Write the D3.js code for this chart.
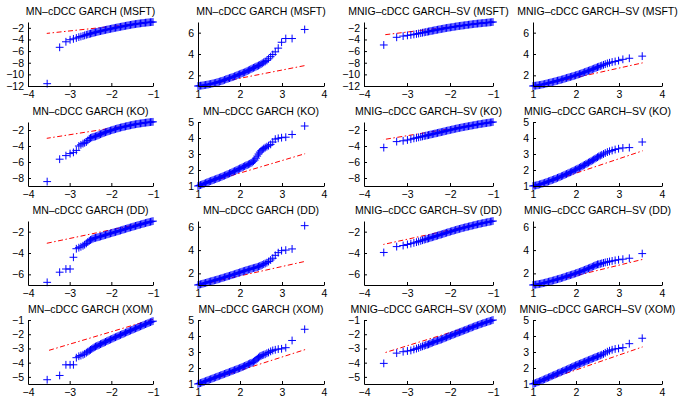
<!DOCTYPE html>
<html><head><meta charset="utf-8">
<script src="https://cdn.jsdelivr.net/npm/d3@7/dist/d3.min.js"></script>
<style>
html,body{margin:0;padding:0;background:#fff;}
svg text{font-family:"Liberation Sans",Arial,Helvetica,sans-serif;}
</style></head>
<body><svg id="chart" width="679" height="397"></svg>
<script>
// ---------------- DATA ----------------
const TITLES = [
  "MN–cDCC GARCH (MSFT)", "MN–cDCC GARCH (MSFT)", "MNIG–cDCC GARCH–SV (MSFT)", "MNIG–cDCC GARCH–SV (MSFT)",
  "MN–cDCC GARCH (KO)",   "MN–cDCC GARCH (KO)",   "MNIG–cDCC GARCH–SV (KO)",   "MNIG–cDCC GARCH–SV (KO)",
  "MN–cDCC GARCH (DD)",   "MN–cDCC GARCH (DD)",   "MNIG–cDCC GARCH–SV (DD)",   "MNIG–cDCC GARCH–SV (DD)",
  "MN–cDCC GARCH (XOM)",  "MN–cDCC GARCH (XOM)",  "MNIG–cDCC GARCH–SV (XOM)",  "MNIG–cDCC GARCH–SV (XOM)"
];
// theoretical (standard normal) quantiles, from the extreme towards the centre
const X_LO = [-3.54,-3.24,-3.09,-2.99,-2.91,-2.84,-2.78,-2.73,-2.68,-2.64,-2.60,-2.565,-2.53,
  -2.50,-2.47,-2.44,-2.41,-2.38,-2.35,-2.32,-2.29,-2.26,-2.23,
  -2.20,-2.17,-2.14,-2.11,-2.08,-2.05,-2.02,-1.99,-1.96,-1.93,
  -1.90,-1.87,-1.84,-1.81,-1.78,-1.75,-1.72,-1.69,-1.66,-1.63,
  -1.60,-1.57,-1.54,-1.51,-1.48,-1.45,-1.42,-1.39,-1.36,-1.33,
  -1.30,-1.27,-1.24,-1.21,-1.18,-1.15,-1.12,-1.09,-1.06,-1.03,-1.00];
const X_HI = [3.54,3.24,3.09,2.99,2.91,2.84,2.78,2.73,2.68,2.64,2.60,2.565,2.53,
  2.50,2.47,2.44,2.41,2.38,2.35,2.32,2.29,2.26,2.23,
  2.20,2.17,2.14,2.11,2.08,2.05,2.02,1.99,1.96,1.93,
  1.90,1.87,1.84,1.81,1.78,1.75,1.72,1.69,1.66,1.63,
  1.60,1.57,1.54,1.51,1.48,1.45,1.42,1.39,1.36,1.33,
  1.30,1.27,1.24,1.21,1.18,1.15,1.12,1.09,1.06,1.03,1.00];
const X_TICKS_LO = [-4,-3,-2,-1];
const X_TICKS_HI = [1,2,3,4];
const X_DOM_LO = [-4,-1];
const X_DOM_HI = [1,4];

// empirical quantiles (one per theoretical quantile)
const MN_MSFT_LO = [-11.6,-5.35,-4.4,-4.05,-3.9,-3.75,-3.6,-3.5,-3.4,-3.3,-3.2,-3.13,-3.06,
  -3.0,-2.94,-2.88,-2.82,-2.77,-2.72,-2.66,-2.6,-2.56,-2.51,
  -2.46,-2.41,-2.36,-2.31,-2.27,-2.22,-2.18,-2.13,-2.09,-2.04,
  -2.0,-1.96,-1.92,-1.87,-1.83,-1.79,-1.75,-1.71,-1.66,-1.62,
  -1.58,-1.54,-1.5,-1.46,-1.42,-1.39,-1.35,-1.32,-1.29,-1.26,
  -1.23,-1.2,-1.17,-1.15,-1.12,-1.1,-1.08,-1.05,-1.03,-1.01,-1.0];
const MN_MSFT_HI = [6.3,5.45,5.45,5.1,4.55,4.2,3.95,3.75,3.55,3.4,3.3,3.22,3.13,
  3.05,2.98,2.92,2.86,2.81,2.75,2.7,2.64,2.58,2.52,
  2.46,2.4,2.34,2.28,2.24,2.2,2.15,2.1,2.06,2.01,
  1.96,1.91,1.86,1.82,1.78,1.74,1.7,1.66,1.62,1.57,
  1.52,1.48,1.45,1.41,1.38,1.34,1.3,1.27,1.25,1.22,
  1.19,1.17,1.14,1.12,1.1,1.08,1.06,1.04,1.03,1.01,1.0];
const MNIG_MSFT_LO = [-4.95,-3.63,-3.42,-3.3,-3.22,-3.14,-3.05,-2.98,-2.9,-2.84,-2.78,-2.73,-2.68,
  -2.63,-2.59,-2.54,-2.5,-2.46,-2.41,-2.37,-2.33,-2.28,-2.24,
  -2.2,-2.16,-2.12,-2.07,-2.03,-2.0,-1.96,-1.93,-1.89,-1.86,
  -1.82,-1.78,-1.75,-1.71,-1.68,-1.65,-1.62,-1.59,-1.56,-1.53,
  -1.5,-1.47,-1.44,-1.41,-1.38,-1.35,-1.33,-1.3,-1.28,-1.25,
  -1.23,-1.21,-1.18,-1.16,-1.14,-1.12,-1.1,-1.07,-1.05,-1.02,-1.0];
const MNIG_MSFT_HI = [3.8,3.6,3.5,3.38,3.3,3.25,3.18,3.12,3.05,2.98,2.92,2.87,2.81,
  2.77,2.72,2.67,2.62,2.57,2.52,2.48,2.43,2.39,2.34,
  2.3,2.25,2.21,2.16,2.12,2.08,2.04,2.0,1.96,1.92,
  1.89,1.85,1.82,1.78,1.75,1.71,1.67,1.63,1.6,1.56,
  1.53,1.5,1.47,1.43,1.4,1.37,1.34,1.31,1.28,1.25,
  1.22,1.19,1.16,1.14,1.11,1.09,1.07,1.05,1.03,1.02,1.0];

const MN_KO_LO = [-8.45,-5.65,-5.2,-4.95,-4.8,-4.55,-4.0,-3.85,-3.7,-3.6,-3.5,-3.3,-3.1,
  -3.0,-2.94,-2.88,-2.84,-2.8,-2.74,-2.67,-2.6,-2.53,-2.46,
  -2.4,-2.34,-2.28,-2.23,-2.17,-2.12,-2.07,-2.02,-1.97,-1.93,
  -1.88,-1.83,-1.79,-1.74,-1.7,-1.66,-1.62,-1.59,-1.55,-1.51,
  -1.48,-1.44,-1.41,-1.37,-1.34,-1.31,-1.28,-1.25,-1.23,-1.2,
  -1.18,-1.16,-1.13,-1.11,-1.09,-1.07,-1.05,-1.03,-1.01,-0.99,-0.98];
const MN_KO_HI = [4.75,4.22,4.05,4.02,3.98,3.93,3.75,3.6,3.52,3.46,3.4,3.34,3.27,
  3.2,3.12,3.0,2.87,2.74,2.62,2.55,2.48,2.43,2.39,
  2.35,2.31,2.28,2.24,2.2,2.16,2.12,2.09,2.05,2.01,
  1.97,1.93,1.9,1.86,1.82,1.79,1.75,1.72,1.68,1.65,
  1.62,1.58,1.55,1.52,1.49,1.46,1.43,1.4,1.37,1.34,
  1.31,1.28,1.25,1.22,1.18,1.15,1.12,1.09,1.06,1.03,1.0];
const MNIG_KO_LO = [-4.2,-3.45,-3.35,-3.25,-3.15,-3.05,-2.98,-2.92,-2.86,-2.8,-2.75,-2.71,-2.67,
  -2.63,-2.59,-2.55,-2.52,-2.48,-2.44,-2.41,-2.37,-2.33,-2.29,
  -2.26,-2.22,-2.18,-2.14,-2.1,-2.06,-2.03,-1.99,-1.95,-1.92,
  -1.88,-1.84,-1.81,-1.77,-1.74,-1.71,-1.67,-1.64,-1.61,-1.58,
  -1.55,-1.52,-1.49,-1.46,-1.43,-1.4,-1.37,-1.34,-1.31,-1.28,
  -1.26,-1.23,-1.2,-1.18,-1.15,-1.13,-1.1,-1.08,-1.05,-1.03,-1.0];
const MNIG_KO_HI = [3.75,3.4,3.38,3.33,3.28,3.22,3.17,3.12,3.06,3.0,2.95,2.9,2.85,
  2.8,2.75,2.7,2.65,2.6,2.55,2.51,2.46,2.41,2.37,
  2.32,2.28,2.23,2.19,2.14,2.1,2.06,2.02,1.98,1.94,
  1.9,1.86,1.83,1.79,1.75,1.72,1.68,1.64,1.61,1.57,
  1.54,1.51,1.47,1.44,1.41,1.38,1.35,1.32,1.29,1.26,
  1.23,1.2,1.17,1.15,1.12,1.1,1.07,1.05,1.03,1.02,1.0];

const MN_DD_LO = [-6.75,-5.8,-5.5,-5.5,-4.4,-3.6,-3.5,-3.42,-3.32,-3.22,-3.1,-2.97,-2.86,
  -2.78,-2.72,-2.66,-2.61,-2.58,-2.55,-2.52,-2.49,-2.45,-2.42,
  -2.38,-2.34,-2.31,-2.27,-2.24,-2.2,-2.16,-2.13,-2.09,-2.06,
  -2.03,-1.99,-1.96,-1.92,-1.89,-1.85,-1.81,-1.78,-1.74,-1.71,
  -1.67,-1.63,-1.6,-1.57,-1.53,-1.5,-1.46,-1.43,-1.39,-1.36,
  -1.33,-1.29,-1.26,-1.23,-1.19,-1.16,-1.13,-1.1,-1.07,-1.04,-1.01];
const MN_DD_HI = [6.1,4.1,4.0,3.95,3.78,3.55,3.3,3.15,3.02,2.92,2.85,2.79,2.73,
  2.67,2.63,2.58,2.54,2.51,2.48,2.45,2.42,2.39,2.35,
  2.32,2.29,2.26,2.22,2.19,2.15,2.11,2.08,2.04,2.01,
  1.97,1.93,1.9,1.86,1.83,1.79,1.76,1.73,1.69,1.66,
  1.63,1.59,1.56,1.53,1.49,1.46,1.43,1.4,1.37,1.34,
  1.31,1.28,1.25,1.21,1.18,1.15,1.12,1.09,1.06,1.03,1.0];
const MNIG_DD_LO = [-3.95,-3.4,-3.3,-3.2,-3.12,-3.05,-2.98,-2.92,-2.86,-2.8,-2.75,-2.71,-2.67,
  -2.63,-2.59,-2.55,-2.52,-2.48,-2.44,-2.41,-2.37,-2.33,-2.29,
  -2.26,-2.22,-2.18,-2.14,-2.1,-2.06,-2.03,-1.99,-1.95,-1.92,
  -1.88,-1.84,-1.81,-1.77,-1.74,-1.71,-1.67,-1.64,-1.61,-1.58,
  -1.55,-1.52,-1.49,-1.46,-1.43,-1.4,-1.37,-1.34,-1.31,-1.28,
  -1.26,-1.23,-1.2,-1.18,-1.15,-1.13,-1.1,-1.08,-1.05,-1.03,-1.0];
const MNIG_DD_HI = [3.7,3.3,3.22,3.17,3.12,3.07,3.02,2.98,2.94,2.9,2.86,2.82,2.78,
  2.77,2.72,2.67,2.62,2.57,2.52,2.48,2.43,2.39,2.34,
  2.3,2.25,2.21,2.16,2.12,2.08,2.04,2.0,1.96,1.92,
  1.89,1.85,1.82,1.78,1.75,1.71,1.67,1.63,1.6,1.56,
  1.53,1.5,1.47,1.43,1.4,1.37,1.34,1.31,1.28,1.25,
  1.22,1.19,1.16,1.14,1.11,1.09,1.07,1.05,1.03,1.02,1.0];

const MN_XOM_LO = [-5.2,-4.9,-4.15,-4.15,-4.15,-3.65,-3.55,-3.5,-3.44,-3.38,-3.3,-3.23,-3.16,
  -3.1,-3.04,-2.98,-2.92,-2.87,-2.83,-2.79,-2.75,-2.7,-2.66,
  -2.62,-2.58,-2.54,-2.49,-2.45,-2.41,-2.37,-2.33,-2.29,-2.24,
  -2.21,-2.17,-2.13,-2.09,-2.05,-2.01,-1.98,-1.94,-1.89,-1.86,
  -1.82,-1.78,-1.74,-1.7,-1.67,-1.63,-1.59,-1.56,-1.52,-1.48,
  -1.44,-1.41,-1.37,-1.33,-1.29,-1.26,-1.22,-1.18,-1.15,-1.11,-1.08];
const MN_XOM_HI = [4.42,3.72,3.27,3.2,3.18,3.14,3.1,3.04,2.97,2.92,2.86,2.83,2.8,
  2.76,2.72,2.65,2.58,2.51,2.45,2.39,2.34,2.31,2.28,
  2.24,2.2,2.16,2.13,2.09,2.06,2.02,1.99,1.96,1.93,
  1.9,1.87,1.84,1.81,1.78,1.75,1.72,1.69,1.66,1.63,
  1.6,1.57,1.54,1.51,1.48,1.45,1.42,1.39,1.36,1.33,
  1.3,1.27,1.24,1.21,1.18,1.15,1.12,1.09,1.06,1.03,1.0];
const MNIG_XOM_LO = [-4.05,-3.33,-3.23,-3.18,-3.14,-3.07,-3.01,-2.96,-2.9,-2.85,-2.81,-2.77,-2.74,
  -2.71,-2.67,-2.63,-2.59,-2.55,-2.52,-2.49,-2.46,-2.43,-2.4,
  -2.37,-2.33,-2.29,-2.25,-2.22,-2.18,-2.14,-2.11,-2.07,-2.04,
  -2.0,-1.96,-1.93,-1.89,-1.86,-1.83,-1.79,-1.75,-1.72,-1.69,
  -1.65,-1.61,-1.58,-1.54,-1.51,-1.47,-1.43,-1.4,-1.37,-1.34,
  -1.3,-1.27,-1.24,-1.21,-1.18,-1.15,-1.12,-1.09,-1.06,-1.03,-1.0];
const MNIG_XOM_HI = [3.86,3.52,3.27,3.22,3.19,3.14,3.08,3.02,2.95,2.88,2.83,2.79,2.75,
  2.72,2.69,2.66,2.62,2.59,2.56,2.52,2.49,2.46,2.42,
  2.39,2.36,2.32,2.29,2.26,2.23,2.19,2.16,2.12,2.09,
  2.05,2.01,1.98,1.94,1.9,1.87,1.83,1.8,1.76,1.72,
  1.7,1.66,1.62,1.58,1.55,1.52,1.48,1.44,1.41,1.37,
  1.34,1.3,1.27,1.23,1.19,1.16,1.13,1.1,1.06,1.03,1.0];

// reference (dash-dot) line: y at the central end (x=±1) and at the extreme end (x=±3.55)
const REF_X_LO = [-1.0, -3.55];
const REF_X_HI = [1.0, 3.55];
const REF_Y = [
  [-1.0,-2.96], [0.95,2.92], [-0.95,-3.22], [0.9,3.17],
  [-0.95,-3.04], [1.03,3.02], [-0.95,-3.2], [0.9,3.2],
  [-1.0,-3.09], [0.98,3.03], [-0.95,-3.2], [0.9,3.2],
  [-0.95,-3.18], [1.0,3.15], [-0.95,-3.33], [0.95,3.32]
];

const Y_DOMAINS = [
  [-12,-1],[1,7],[-12,-1],[1,7],
  [-9,-1],[1,5],[-9,-1],[1,5],
  [-7,-1],[1,6.5],[-7,-1],[1,6.5],
  [-5.5,-1],[1,5],[-5.5,-1],[1,5]
];
const Y_TICKS = [
  [-12,-10,-8,-6,-4,-2],[2,4,6],[-12,-10,-8,-6,-4,-2],[2,4,6],
  [-8,-6,-4,-2],[1,2,3,4,5],[-8,-6,-4,-2],[1,2,3,4,5],
  [-6,-4,-2],[2,4,6],[-6,-4,-2],[2,4,6],
  [-5,-4,-3,-2,-1],[1,2,3,4,5],[-5,-4,-3,-2,-1],[1,2,3,4,5]
];
const SERIES = [
  MN_MSFT_LO, MN_MSFT_HI, MNIG_MSFT_LO, MNIG_MSFT_HI,
  MN_KO_LO, MN_KO_HI, MNIG_KO_LO, MNIG_KO_HI,
  MN_DD_LO, MN_DD_HI, MNIG_DD_LO, MNIG_DD_HI,
  MN_XOM_LO, MN_XOM_HI, MNIG_XOM_LO, MNIG_XOM_HI
];

// ---------------- LAYOUT ----------------
const COL_L = [28, 198, 364, 533];
const COL_R = [153, 324, 493, 662];
const ROW_T = [22, 122, 221, 320];
const ROW_B = [86, 186, 285, 384];
const FONT = 10.5, TFONT = 10.5, ARM = 3.9;

const svg = d3.select("#chart");

for (let p = 0; p < 16; p++) {
  const r = Math.floor(p / 4), c = p % 4;
  const lower = (c % 2 === 0);
  const xs = lower ? X_LO : X_HI;
  const ys = SERIES[p];
  const x = d3.scaleLinear().domain(lower ? X_DOM_LO : X_DOM_HI).range([COL_L[c], COL_R[c]]);
  const y = d3.scaleLinear().domain(Y_DOMAINS[p]).range([ROW_B[r], ROW_T[r]]);
  const g = svg.append("g");

  // reference line
  const rx = lower ? REF_X_LO : REF_X_HI;
  g.append("line")
    .attr("x1", x(rx[0])).attr("y1", y(REF_Y[p][0]))
    .attr("x2", x(rx[1])).attr("y2", y(REF_Y[p][1]))
    .attr("stroke", "#ff0000").attr("stroke-width", 1)
    .attr("stroke-dasharray", "5,2.5,1.5,2.5");

  // data markers '+'
  const n = Math.min(xs.length, ys.length);
  const pts = d3.range(n).map(i => [xs[i], ys[i]]);
  g.append("g").selectAll("path").data(pts).enter().append("path")
    .attr("d", d => {
      const px = x(d[0]), py = y(d[1]);
      return `M${px - ARM},${py}H${px + ARM}M${px},${py - ARM}V${py + ARM}`;
    })
    .attr("stroke", "#0000ff").attr("stroke-width", 1).attr("fill", "none");

  // axes
  const ax = d3.axisBottom(x).tickValues(lower ? X_TICKS_LO : X_TICKS_HI)
    .tickSizeInner(-3).tickSizeOuter(0).tickPadding(4.5).tickFormat(d3.format("d"));
  const ay = d3.axisLeft(y).tickValues(Y_TICKS[p])
    .tickSizeInner(-3).tickSizeOuter(0).tickPadding(4).tickFormat(d3.format("d"));
  const gx = g.append("g").attr("transform", `translate(0,${ROW_B[r]})`).call(ax);
  const gy = g.append("g").attr("transform", `translate(${COL_L[c]},0)`).call(ay);
  [gx, gy].forEach(a => {
    a.selectAll("text").attr("font-size", FONT).attr("fill", "#000")
      .attr("font-family", '"Liberation Sans",Arial,Helvetica,sans-serif');
    a.selectAll("line,path").attr("stroke", "#000");
    a.attr("font-size", null).attr("font-family", null);
  });

  // title
  g.append("text")
    .attr("x", (COL_L[c] + COL_R[c]) / 2)
    .attr("y", ROW_T[r] - 7)
    .attr("text-anchor", "middle")
    .attr("font-size", TFONT)
    .attr("fill", "#000")
    .text(TITLES[p]);
}
</script></body></html>
